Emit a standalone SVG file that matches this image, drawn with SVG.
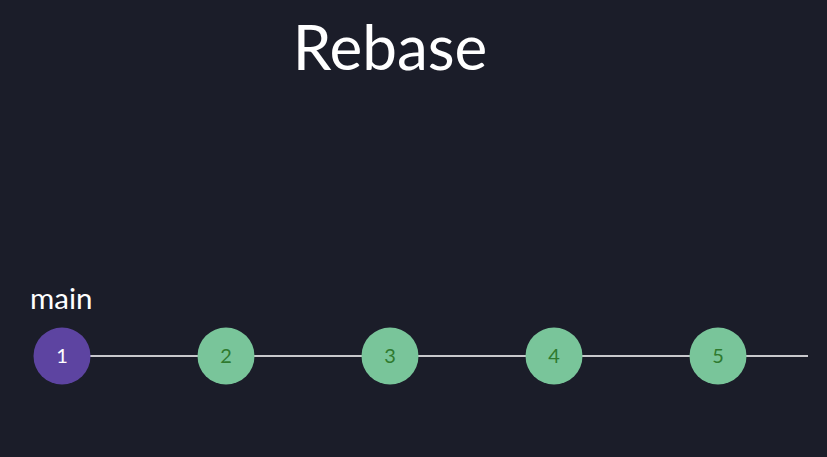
<svg xmlns="http://www.w3.org/2000/svg" width="827" height="457" viewBox="0 0 827 457">
<style>
.t{font-family:Lato,"Noto Sans",sans-serif}
.c{fill:#79c59a}
.n{font-family:Lato,"Noto Sans",sans-serif;font-size:20px;text-anchor:middle;fill:#2f7a2f}
</style>
<rect width="827" height="457" fill="#1b1d29"/>
<text class="t" x="390" y="70" font-size="62" fill="#ffffff" text-anchor="middle">Rebase</text>
<text class="t" x="30" y="309" font-size="29.5" fill="#ffffff">main</text>
<g id="connectors">
<line x1="62" y1="356" x2="808" y2="356" stroke="#c8c8cc" stroke-width="2"/>
</g>
<g id="c1"><circle cx="62" cy="356" r="28.5" fill="#5d44a1"/><text class="n" x="62" y="363" style="fill:#fff">1</text></g>
<g id="c2"><circle class="c" cx="226" cy="356" r="28.5"/><text class="n" x="226" y="363">2</text></g>
<g id="c3"><circle class="c" cx="390" cy="356" r="28.5"/><text class="n" x="390" y="363">3</text></g>
<g id="c4"><circle class="c" cx="554" cy="356" r="28.5"/><text class="n" x="554" y="363">4</text></g>
<g id="c5"><circle class="c" cx="718" cy="356" r="28.5"/><text class="n" x="718" y="363">5</text></g>
</svg>
